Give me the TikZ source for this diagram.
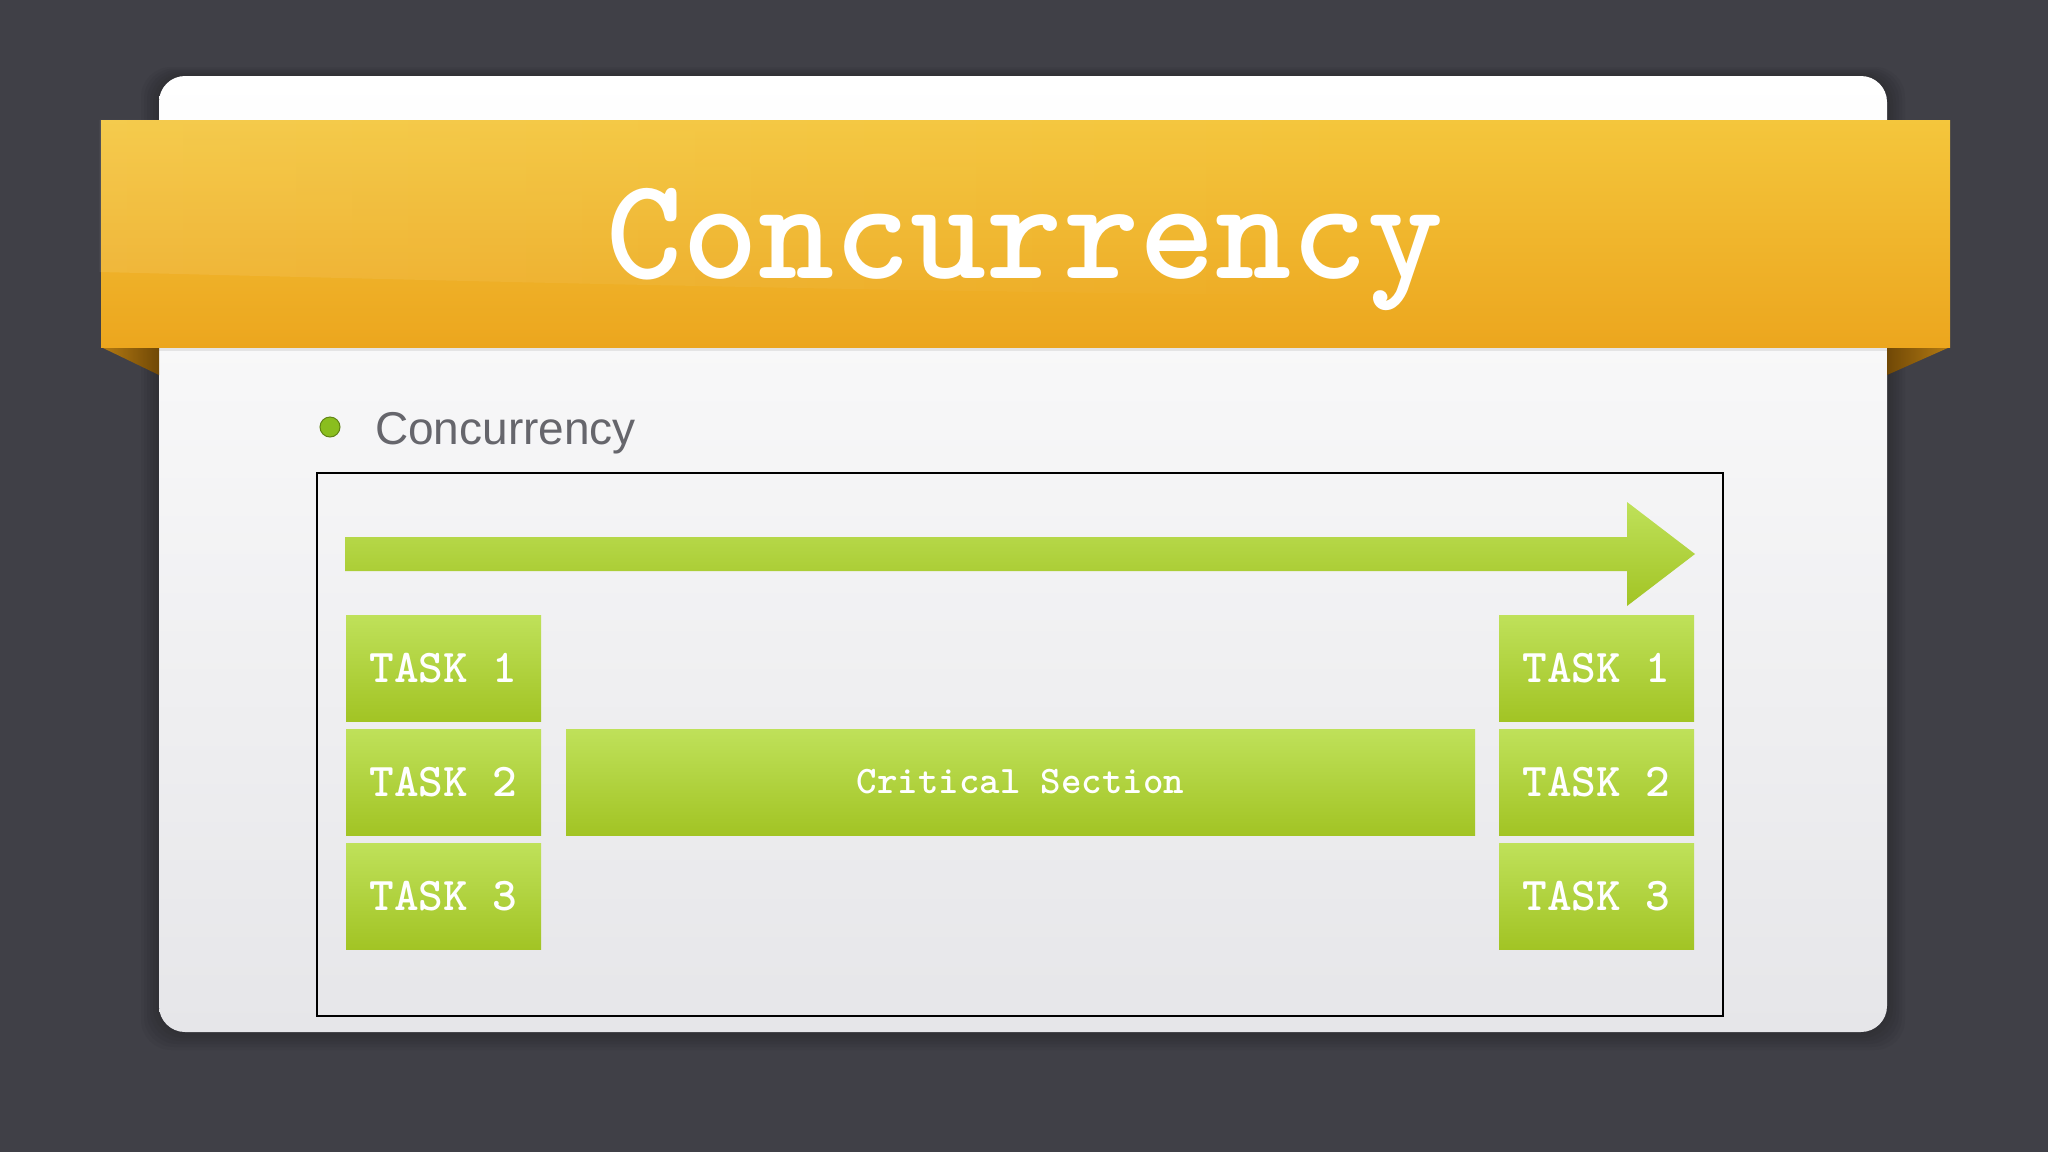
\documentclass[tikz,border=0pt]{standalone}
\usepackage{fontspec}
\newfontfamily\subfont{Liberation Sans}
\usepackage{tikz}
\usetikzlibrary{positioning,fadings}

\definecolor{bgdark}{RGB}{64,64,71}
\definecolor{cardbot}{RGB}{230,230,233}
\definecolor{bantop}{RGB}{244,198,60}
\definecolor{banbot}{RGB}{236,166,30}
\definecolor{folddark}{RGB}{112,72,6}
\definecolor{foldlight}{RGB}{182,124,18}
\definecolor{greentop}{RGB}{191,225,90}
\definecolor{greenbot}{RGB}{162,196,36}
\definecolor{subgray}{RGB}{102,102,108}
\definecolor{dotgreen}{RGB}{138,190,30}

\tikzset{
  taskbox/.style={top color=greentop, bottom color=greenbot, minimum width=195pt,
    minimum height=106pt, inner sep=0pt, outer sep=0pt, text=white,
    font=\ttfamily\bfseries\fontsize{47}{50}\selectfont},
  critbox/.style={taskbox, minimum width=909pt, font=\ttfamily\bfseries\fontsize{39}{42}\selectfont}
}

\begin{document}
\begin{tikzpicture}[x=1pt,y=-1pt]
    % Background and card
    \fill[bgdark] (0,0) rectangle (2048,1152);
    \foreach \s in {3,6,...,18}
        \fill[black, opacity=0.035, rounded corners=30pt] (159-\s,76-\s/2) rectangle (1887+\s,1032+\s);
    \shade[top color=white, bottom color=cardbot, rounded corners=26pt] (159,76) rectangle (1887,1032);
    % Banner
    \shade[left color=foldlight, right color=folddark] (101,347) -- (159,347) -- (159,375) -- cycle;
    \shade[left color=folddark, right color=foldlight] (1887,347) -- (1950,347) -- (1887,375) -- cycle;
    \fill[black, opacity=0.08] (159,347) rectangle (1887,351);
    \shade[top color=bantop, bottom color=banbot] (101,120) rectangle (1950,347);
    \fill[white, opacity=0.09, path fading=east] (101,120) -- (101,272) .. controls (500,282) and (900,292) .. (1400,296) -- (1400,120) -- cycle;
    \node[anchor=base, text=white, font=\ttfamily\bfseries\fontsize{145}{150}\selectfont] (title) at (1025,278) {Concurrency};
    % Bullet
    \node[circle, fill=dotgreen, draw=dotgreen!70!black, line width=1pt, minimum size=20pt, inner sep=0pt] (bullet) at (330,427) {};
    \node[anchor=base west, text=subgray, font=\subfont\fontsize{46}{50}\selectfont, inner sep=0pt] (subtitle) at (375,444) {Concurrency};
    % Frame and time arrow
    \draw[line width=2pt] (317,473) rectangle (1723,1016);
    \shade[top color=greentop, bottom color=greenbot] (345,537) -- (1627,537) -- (1627,502) -- (1695,554)
        -- (1627,606) -- (1627,571) -- (345,571) -- cycle;
    % Tasks
    \node[taskbox] (taskL1) at (443.5,668) {TASK 1};
    \node[taskbox, below=8pt of taskL1] (taskL2) {TASK 2};
    \node[taskbox, below=8pt of taskL2] (taskL3) {TASK 3};
    \node[taskbox] (taskR1) at (1596.5,668) {TASK 1};
    \node[taskbox, below=8pt of taskR1] (taskR2) {TASK 2};
    \node[taskbox, below=8pt of taskR2] (taskR3) {TASK 3};
    \node[critbox, right=25pt of taskL2] (critical) {Critical Section};
\end{tikzpicture}
\end{document}
